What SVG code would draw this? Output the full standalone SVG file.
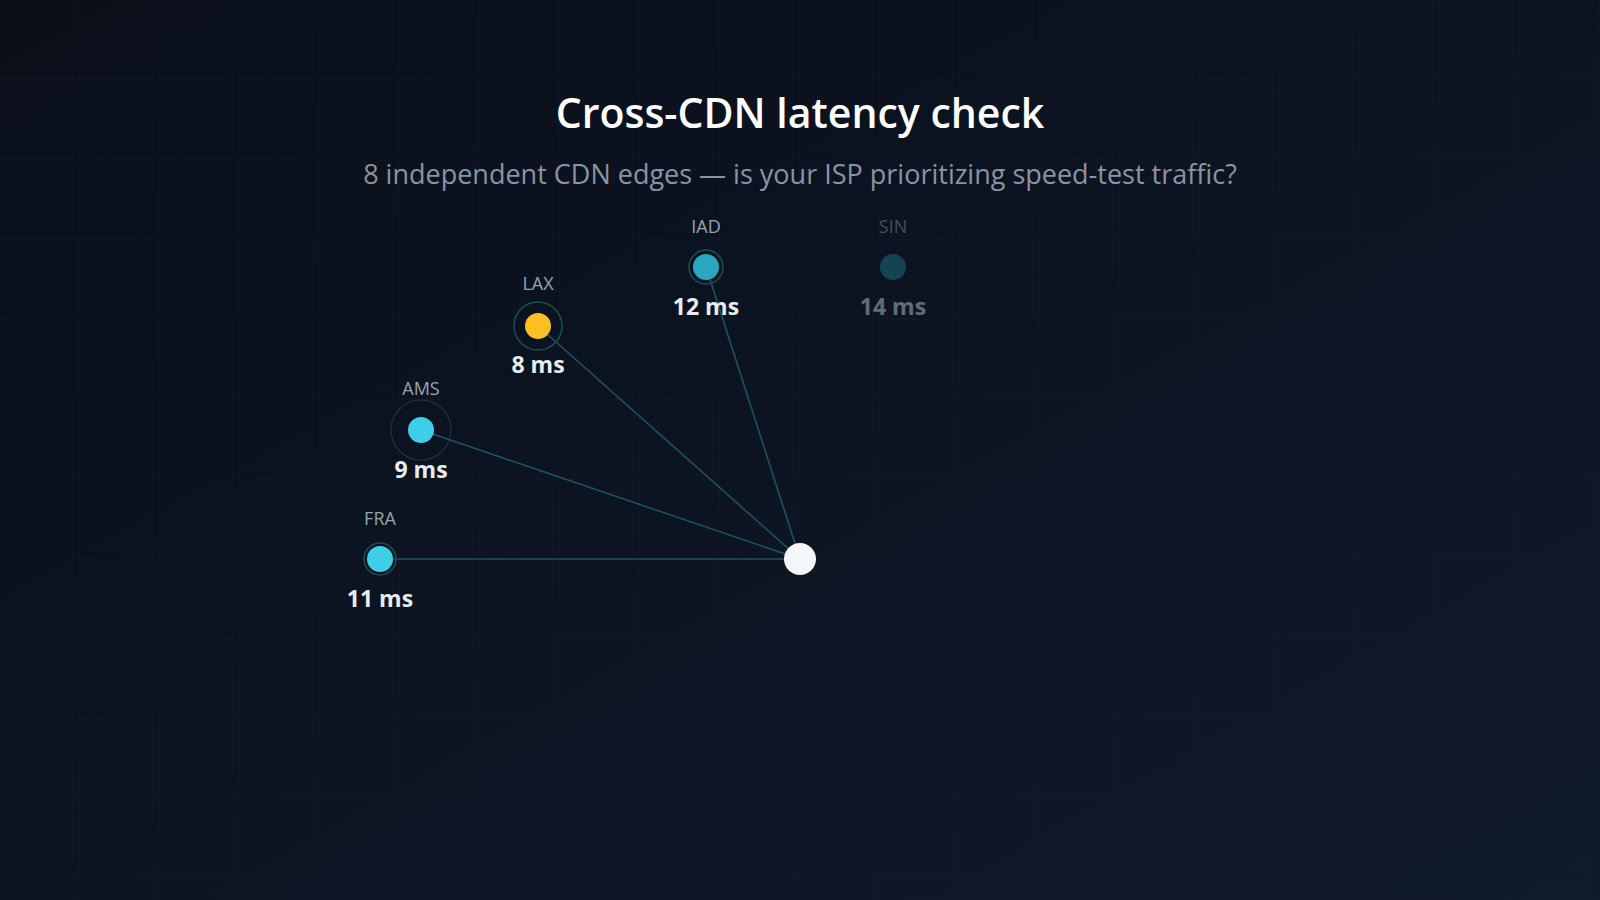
<svg xmlns="http://www.w3.org/2000/svg" width="1600" height="900" viewBox="0 0 1600 900">
<defs>
<linearGradient id="bg" x1="0" y1="0" x2="1" y2="1"><stop offset="0" stop-color="#0a0f1a"/><stop offset="1" stop-color="#0f1a2a"/></linearGradient>
<pattern id="grid" width="80" height="80" patternUnits="userSpaceOnUse"><path d="M80 0V80H0" fill="none" stroke="#16202c" stroke-width="1"/></pattern>
<style>
.lbl{font-family:"Open Sans","Noto Sans",sans-serif;font-size:18px;fill:#9aa4b0;text-anchor:middle}
.ms{font-family:"Open Sans","Noto Sans",sans-serif;font-size:23px;font-weight:700;fill:#e8edf2;text-anchor:middle}
.edge{stroke:#1d5458;stroke-width:1.6;fill:none}
.ring{fill:none;stroke:#1d4f52;stroke-width:1.5}
</style>
</defs>
<rect width="1600" height="900" fill="url(#bg)"/>
<rect width="1600" height="900" fill="url(#grid)" opacity="0.6"/>
<text x="800" y="128" text-anchor="middle" font-family="'Open Sans','Noto Sans',sans-serif" font-size="41" font-weight="600" fill="#ffffff">Cross-CDN latency check</text>
<text x="800" y="184" text-anchor="middle" font-family="'Open Sans','Noto Sans',sans-serif" font-size="27" fill="#8a94a2">8 independent CDN edges — is your ISP prioritizing speed-test traffic?</text>
<g id="connectors">
<line class="edge" x1="800" y1="559" x2="380" y2="559"/>
<line class="edge" x1="800" y1="559" x2="421" y2="430"/>
<line class="edge" x1="800" y1="559" x2="538" y2="326"/>
<line class="edge" x1="800" y1="559" x2="706" y2="267"/>
</g>
<g id="node-fra"><circle class="ring" cx="380" cy="559" r="16"/><circle cx="380" cy="559" r="13" fill="#3ecfe8"/><text class="lbl" x="380" y="525">FRA</text><text class="ms" x="380" y="607">11 ms</text></g>
<g id="node-ams"><circle class="ring" cx="421" cy="430" r="30" stroke-opacity="0.5"/><circle cx="421" cy="430" r="13" fill="#3ecfe8"/><text class="lbl" x="421" y="395">AMS</text><text class="ms" x="421" y="478">9 ms</text></g>
<g id="node-lax"><circle class="ring" cx="538" cy="326" r="24"/><circle cx="538" cy="326" r="13" fill="#fbbf24"/><text class="lbl" x="538" y="290">LAX</text><text class="ms" x="538" y="373">8 ms</text></g>
<g id="node-iad"><circle class="ring" cx="706" cy="267" r="17"/><circle cx="706" cy="267" r="13" fill="#2aa7c0"/><text class="lbl" x="706" y="233">IAD</text><text class="ms" x="706" y="315">12 ms</text></g>
<g id="node-sin" opacity="0.4"><circle cx="893" cy="267" r="13" fill="#2aa7c0" opacity="0.8"/><text class="lbl" x="893" y="233" fill="#6a7480">SIN</text><text class="ms" x="893" y="315" fill="#8a94a2">14 ms</text></g>
<g id="node-center"><circle cx="800" cy="559" r="16" fill="#f4f7fa"/></g>
</svg>
